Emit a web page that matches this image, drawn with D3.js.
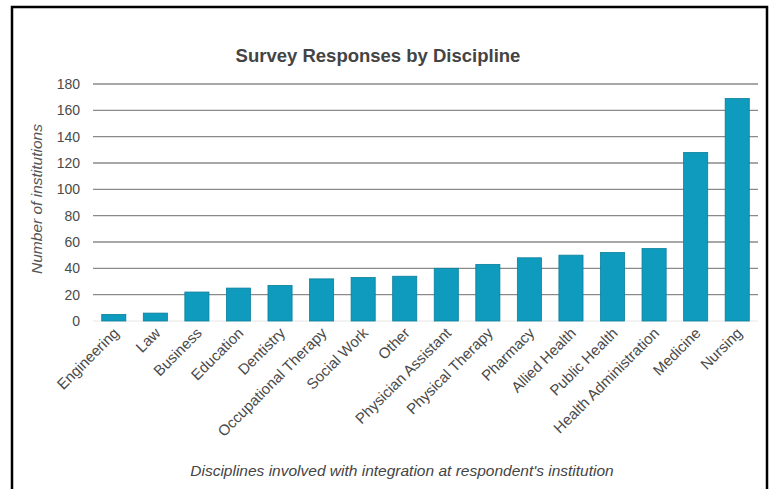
<!DOCTYPE html>
<html><head><meta charset="utf-8">
<script src="https://cdn.jsdelivr.net/npm/d3@7"></script>
<style>body{margin:0;background:#fff;}svg{display:block;font-family:"Liberation Sans",Arial,sans-serif;}</style>
</head><body>
<svg id="c" width="769" height="489"></svg>
<script>
const categories = ["Engineering","Law","Business","Education","Dentistry","Occupational Therapy","Social Work","Other","Physician Assistant","Physical Therapy","Pharmacy","Allied Health","Public Health","Health Administration","Medicine","Nursing"];
const values = [5,6,22,25,27,32,33,34,40,43,48,50,52,55,128,169];
const yTicks = [0,20,40,60,80,100,120,140,160,180];
const title = "Survey Responses by Discipline";
const yTitle = "Number of institutions";
const xTitle = "Disciplines involved with integration at respondent's institution";

const svg = d3.select("#c");
// frame
svg.append("rect").attr("x",12).attr("y",7).attr("width",755).attr("height",500)
  .attr("fill","#fff").attr("stroke","#000").attr("stroke-width",2.5);

const mLeft = 93, mRight = 758, mTop = 84, mBottom = 321;
const x = d3.scaleBand().domain(categories).range([mLeft, mRight]).paddingInner(0.42).paddingOuter(0.21);
const y = d3.scaleLinear().domain([0,180]).range([mBottom, mTop]);

// gridlines
svg.append("g").selectAll("line").data(yTicks.filter(d=>d>0)).join("line")
  .attr("x1",mLeft).attr("x2",mRight).attr("y1",d=>y(d)).attr("y2",d=>y(d))
  .attr("stroke","#8a8a8a").attr("stroke-width",1.3);
svg.append("line").attr("x1",mLeft).attr("x2",mRight).attr("y1",y(0)).attr("y2",y(0))
  .attr("stroke","#e6e6e6").attr("stroke-width",1);

// y axis labels
const yAxis = d3.axisLeft(y).tickValues(yTicks).tickSize(0).tickPadding(0);
const ya = svg.append("g").attr("transform",`translate(80,0)`).call(yAxis);
ya.select(".domain").remove();
ya.selectAll("text").attr("font-size",14).attr("fill","#4a4a4a").attr("font-family","Liberation Sans, Arial, sans-serif");

// bars
svg.append("g").selectAll("rect").data(values).join("rect")
  .attr("x",(d,i)=>x(categories[i])).attr("width",x.bandwidth())
  .attr("y",d=>y(d)).attr("height",d=>y(0)-y(d))
  .attr("fill","#0e9bbd").attr("stroke","#0b7f9c").attr("stroke-width",0.8);

// x axis labels
const xAxis = d3.axisBottom(x).tickSize(0).tickPadding(0);
const xa = svg.append("g").attr("transform",`translate(0,${mBottom})`).call(xAxis);
xa.select(".domain").remove();
xa.selectAll("text").attr("font-size",15).attr("fill","#4a4a4a")
  .attr("font-family","Liberation Sans, Arial, sans-serif")
  .attr("text-anchor","end").attr("dy",null).attr("y",0)
  .attr("transform","translate(6,13) rotate(-45)");

// titles
svg.append("text").attr("x",378).attr("y",62).attr("text-anchor","middle")
  .attr("font-size",18.5).attr("font-weight","bold").attr("fill","#444").text(title);
svg.append("text").attr("transform",`translate(42,199) rotate(-90)`)
  .attr("text-anchor","middle").attr("font-size",15.5).attr("font-style","italic").attr("fill","#555").text(yTitle);
svg.append("text").attr("x",402).attr("y",476).attr("text-anchor","middle")
  .attr("font-size",15.5).attr("font-style","italic").attr("fill","#444").text(xTitle);
</script>
</body></html>
